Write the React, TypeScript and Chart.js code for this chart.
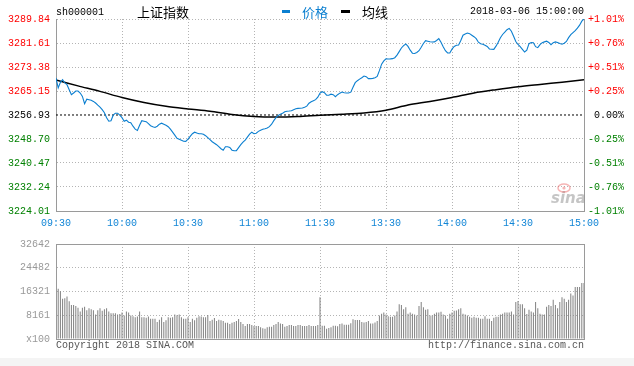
import React, { useEffect, useRef } from "react";
import { Chart, registerables } from "chart.js";

Chart.register(...registerables);

// ---------- data ----------
const stockCode = "sh000001";
const stockName = "上证指数";
const legendPrice = "价格";
const legendAvg = "均线";
const dateTime = "2018-03-06 15:00:00";
const copyrightText = "Copyright 2018 SINA.COM";
const siteText = "http://finance.sina.com.cn";
const watermarkText = "sina";

const prevClose = 3256.93;
const priceTicks = [3224.01, 3232.24, 3240.47, 3248.7, 3256.93, 3265.15, 3273.38, 3281.61, 3289.84];
const priceTickLabels = ["3224.01", "3232.24", "3240.47", "3248.70", "3256.93", "3265.15", "3273.38", "3281.61", "3289.84"];
const pctTickLabels = ["-1.01%", "-0.76%", "-0.51%", "-0.25%", "0.00%", "+0.25%", "+0.51%", "+0.76%", "+1.01%"];

// trading minutes since 09:30 (lunch break removed)
const timeTicks = [0, 30, 60, 90, 120, 150, 180, 210, 240];
const timeLabels = ["09:30", "10:00", "10:30", "11:00", "11:30", "13:30", "14:00", "14:30", "15:00"];

const volTicks = [0, 8161, 16321, 24482, 32642];
const volTickLabels = ["x100", "8161", "16321", "24482", "32642"];

// one price per trading minute (241 minutes)
const prices = [
  3269.62, 3266.19, 3268.11, 3269.03, 3267.9, 3267.32, 3265.61, 3263.89, 3264.47, 3265.16,
  3265.16, 3264.47, 3263.31, 3260.8, 3262.35, 3262.18, 3262.0, 3261.59, 3261.04, 3260.29,
  3259.6, 3258.75, 3257.72, 3256.0, 3254.8, 3254.98, 3256.86, 3257.55, 3257.55, 3256.86,
  3256.0, 3254.8, 3255.15, 3254.46, 3254.29, 3253.09, 3252.06, 3251.65, 3253.43, 3254.98,
  3254.8, 3254.63, 3253.95, 3253.26, 3252.92, 3252.64, 3253.09, 3253.78, 3254.12, 3253.78,
  3253.43, 3252.92, 3252.06, 3251.03, 3250.0, 3248.97, 3248.63, 3248.29, 3247.95, 3247.88,
  3248.63, 3249.59, 3250.52, 3251.03, 3250.76, 3250.52, 3250.52, 3250.35, 3249.83, 3249.15,
  3248.46, 3247.77, 3247.26, 3246.75, 3246.06, 3245.37, 3244.86, 3246.06, 3246.06, 3245.82,
  3244.86, 3244.69, 3244.69, 3245.72, 3246.75, 3247.6, 3248.29, 3249.32, 3250.35, 3251.03,
  3250.52, 3250.69, 3251.31, 3251.72, 3252.06, 3252.23, 3252.47, 3252.92, 3253.78, 3254.98,
  3256.0, 3256.79, 3257.2, 3257.55, 3258.06, 3258.23, 3258.3, 3258.4, 3258.75, 3259.09,
  3259.19, 3259.26, 3259.33, 3259.6, 3259.95, 3260.98, 3261.49, 3261.83, 3262.18, 3263.03,
  3264.41, 3264.92, 3264.58, 3263.72, 3263.72, 3264.06, 3263.89, 3263.21, 3263.89, 3264.41,
  3264.82, 3264.58, 3264.47, 3264.47, 3264.75, 3266.46, 3268.01, 3268.69, 3269.21, 3269.72,
  3270.3, 3270.06, 3269.38, 3269.38, 3269.48, 3269.72, 3270.13, 3272.12, 3274.35, 3275.45,
  3276.17, 3276.13, 3276.17, 3276.24, 3276.58, 3277.44, 3278.64, 3279.9, 3280.69, 3281.28,
  3280.45, 3279.15, 3278.12, 3278.02, 3278.36, 3278.98, 3280.18, 3281.45, 3282.41, 3282.24,
  3282.06, 3281.96, 3282.0, 3282.48, 3283.09, 3281.89, 3280.35, 3278.98, 3278.22, 3278.19,
  3279.49, 3280.42, 3280.86, 3280.93, 3282.48, 3284.29, 3284.7, 3285.05, 3284.81, 3284.29,
  3283.78, 3283.09, 3281.89, 3281.38, 3281.17, 3280.86, 3280.42, 3279.56, 3279.46, 3279.42,
  3280.52, 3281.89, 3283.44, 3284.53, 3285.32, 3286.18, 3286.63, 3285.66, 3283.95, 3282.13,
  3281.1, 3280.35, 3279.42, 3278.53, 3279.15, 3281.38, 3281.79, 3281.72, 3280.35, 3280.01,
  3281.04, 3281.72, 3282.0, 3282.24, 3281.79, 3281.04, 3281.72, 3282.0, 3281.79, 3281.45,
  3281.21, 3281.55, 3282.13, 3283.44, 3284.46, 3285.15, 3285.84, 3286.69, 3287.72, 3289.09,
  3289.84,
];

// average price line, read every 10 minutes
const avgMinutes = [0, 10, 20, 30, 40, 50, 60, 70, 80, 90, 100, 110, 120, 130, 140, 150, 160, 170, 180, 190, 200, 210, 220, 230, 240];
const avgPrices = [
  3268.9, 3266.91, 3265.02, 3262.93, 3261.22, 3259.91, 3259.02, 3258.23, 3257.1, 3256.42,
  3256.24, 3256.42, 3256.86, 3257.2, 3257.65, 3258.58, 3260.36, 3261.56, 3262.93, 3264.47,
  3265.61, 3266.63, 3267.42, 3268.18, 3269.03,
];

// volume per minute (x100)
const volumes = [
  32642, 17300, 16420, 13810, 14040, 14590, 12960, 11650, 11650, 11330,
  10770, 9470, 10770, 11100, 9890, 10540, 10220, 9890, 8390, 9890,
  10540, 9690, 10220, 10540, 9470, 8810, 8810, 8810, 8390, 8590,
  9140, 8060, 9470, 9140, 8060, 7830, 7510, 7740, 9470, 7510,
  7510, 7280, 7740, 6950, 6950, 6950, 5880, 6630, 7510, 5880,
  6430, 7510, 7280, 7510, 8390, 8160, 8390, 7510, 6950, 6950,
  7510, 5876, 6963, 6420, 7290, 7834, 7726, 7508, 7508, 8270,
  6202, 6637, 7181, 6202, 6637, 6420, 6202, 5549, 5549, 5114,
  5549, 5876, 6202, 6855, 5876, 5114, 4461, 5114, 5114, 4787,
  4461, 4461, 4461, 4026, 3699, 3482, 4026, 4243, 4243, 4787,
  5114, 5876, 5331, 5114, 4243, 4461, 4787, 4787, 4461, 4461,
  4787, 4787, 4461, 4461, 4461, 4787, 4461, 4461, 4461, 4787,
  14362, 4570, 4570, 3482, 3808, 4026, 4570, 4570, 4352, 5114,
  5331, 4896, 4896, 4896, 5440, 6746, 6528, 6528, 6528, 5876,
  5658, 5876, 6202, 5331, 5331, 5658, 6202, 8053, 8705, 9140,
  8378, 7834, 7616, 7616, 8053, 9466, 11969, 11643, 10227, 10880,
  8705, 9140, 8705, 8378, 8053, 11317, 12730, 10880, 10011, 10227,
  8053, 8053, 8705, 9140, 9140, 9358, 8378, 8053, 6963, 8705,
  9140, 9684, 9793, 10227, 10553, 8705, 8378, 8053, 7616, 7290,
  7616, 7290, 7290, 6963, 6963, 7834, 6963, 6963, 6202, 7290,
  7616, 7616, 8378, 8705, 9140, 9140, 9140, 9466, 8378, 12730,
  13057, 11969, 11969, 10553, 8596, 10011, 9466, 9140, 12730, 10553,
  8705, 8378, 8378, 11098, 11643, 11317, 13491, 11643, 10553, 12730,
  14362, 13818, 12730, 13491, 15668, 14906, 17844, 17844, 17844, 19259,
  19259,
];

// ---------- styles ----------
const MONO = "'Liberation Mono', 'DejaVu Sans Mono', monospace";
const CJK = "'Noto Sans CJK SC', sans-serif";
const BLUE = "#0b7fd0";
const BLUE_TXT = "#1185d6";
const RED = "#ff0000";
const GREEN = "#008000";
const GRID = "#b4b4b4";
const AXIS = "#9a9a9a";
const VOL = "#808080";
const VOL_TXT = "#999999";

const W = 634;
const TOP_H = 232;
const BOT_H = 134;

const tickColor = (v: number) => (v > prevClose + 1e-6 ? RED : v < prevClose - 1e-6 ? GREEN : "#000");

const headerPlugin = {
  id: "header",
  afterDraw(chart: any) {
    const ctx = chart.ctx;
    const area = chart.chartArea;
    ctx.save();
    ctx.textBaseline = "middle";
    ctx.textAlign = "left";
    ctx.fillStyle = "#000";
    ctx.font = `10px ${MONO}`;
    ctx.fillText(stockCode, area.left, 12);
    ctx.font = `13px ${CJK}`;
    ctx.fillText(stockName, 137, 12);
    ctx.fillStyle = BLUE;
    ctx.fillRect(282, 10, 8, 3);
    ctx.fillText(legendPrice, 302, 12);
    ctx.fillStyle = "#000";
    ctx.fillRect(341, 10, 9, 3);
    ctx.fillText(legendAvg, 362, 12);
    ctx.font = `10px ${MONO}`;
    ctx.textAlign = "right";
    ctx.fillText(dateTime, area.right, 11);
    // watermark
    ctx.textAlign = "left";
    ctx.font = `italic bold 15px 'DejaVu Sans', sans-serif`;
    ctx.fillStyle = "rgba(150,150,150,0.55)";
    ctx.fillText(watermarkText, area.right - 33, area.bottom - 12);
    ctx.strokeStyle = "rgba(235,90,90,0.45)";
    ctx.lineWidth = 1.5;
    ctx.beginPath();
    ctx.ellipse(area.right - 20, area.bottom - 23, 6, 4, 0, 0, Math.PI * 2);
    ctx.stroke();
    ctx.fillStyle = "rgba(235,90,90,0.45)";
    ctx.beginPath();
    ctx.arc(area.right - 20, area.bottom - 23, 1.6, 0, Math.PI * 2);
    ctx.fill();
    ctx.restore();
  },
};

const volFramePlugin = {
  id: "volFrame",
  afterDraw(chart: any) {
    const ctx = chart.ctx;
    const a = chart.chartArea;
    ctx.save();
    ctx.strokeStyle = AXIS;
    ctx.lineWidth = 1;
    ctx.strokeRect(Math.round(a.left) + 0.5, Math.round(a.top) + 0.5, Math.round(a.right - a.left), Math.round(a.bottom - a.top));
    ctx.font = `10px ${MONO}`;
    ctx.textBaseline = "middle";
    ctx.fillStyle = "#555";
    ctx.textAlign = "left";
    ctx.fillText(copyrightText, a.left, a.bottom + 6);
    ctx.textAlign = "right";
    ctx.fillText(siteText, a.right, a.bottom + 6);
    ctx.restore();
  },
};

export default function App() {
  const topRef = useRef<HTMLCanvasElement | null>(null);
  const botRef = useRef<HTMLCanvasElement | null>(null);

  useEffect(() => {
    document.body.style.margin = "0";
    const timeTickBuilder = (s: any) => {
      s.ticks = timeTicks.map((v) => ({ value: v }));
    };
    const priceTickBuilder = (s: any) => {
      s.ticks = priceTicks.map((v) => ({ value: v }));
    };

    const priceChart = new Chart(topRef.current as HTMLCanvasElement, {
      type: "line",
      data: {
        datasets: [
          {
            label: legendPrice,
            data: prices.map((p, i) => ({ x: i, y: p })),
            borderColor: BLUE,
            borderWidth: 1.1,
            pointRadius: 0,
            tension: 0,
            order: 1,
          },
          {
            label: legendAvg,
            data: avgMinutes.map((m, i) => ({ x: m, y: avgPrices[i] })),
            borderColor: "#000",
            borderWidth: 1.5,
            pointRadius: 0,
            tension: 0.3,
            order: 2,
          },
          {
            label: "prevClose",
            data: [
              { x: timeTicks[0], y: prevClose },
              { x: timeTicks[timeTicks.length - 1], y: prevClose },
            ],
            borderColor: "#000",
            borderWidth: 1,
            borderDash: [2, 2],
            pointRadius: 0,
            order: 3,
          },
        ],
      },
      options: {
        responsive: false,
        animation: false,
        events: [],
        layout: { padding: { top: 19, left: 0, right: 10, bottom: 0 } },
        plugins: { legend: { display: false }, tooltip: { enabled: false } },
        scales: {
          x: {
            type: "linear",
            min: timeTicks[0],
            max: timeTicks[timeTicks.length - 1],
            afterBuildTicks: timeTickBuilder,
            afterFit: (s: any) => {
              s.height = 21;
            },
            ticks: {
              autoSkip: false,
              maxRotation: 0,
              padding: 6,
              color: BLUE_TXT,
              font: { family: MONO, size: 10 },
              callback: (_v: any, i: number) => timeLabels[i],
            },
            grid: { color: GRID, drawTicks: false, lineWidth: 1 },
            border: { color: AXIS, dash: [1, 2] },
          },
          y: {
            position: "left",
            min: priceTicks[0],
            max: priceTicks[priceTicks.length - 1],
            afterBuildTicks: priceTickBuilder,
            afterFit: (s: any) => {
              s.width = 56;
            },
            ticks: {
              padding: 6,
              font: { family: MONO, size: 10 },
              color: (c: any) => tickColor(c.tick ? c.tick.value : prevClose),
              callback: (_v: any, i: number) => priceTickLabels[i],
            },
            grid: {
              drawTicks: false,
              color: (c: any) => (c.tick && Math.abs(c.tick.value - prevClose) < 1e-6 ? "rgba(0,0,0,0)" : GRID),
            },
            border: { color: AXIS, dash: [1, 2] },
          },
          y2: {
            position: "right",
            min: priceTicks[0],
            max: priceTicks[priceTicks.length - 1],
            afterBuildTicks: priceTickBuilder,
            afterFit: (s: any) => {
              s.width = 40;
            },
            ticks: {
              padding: 4,
              crossAlign: "far",
              font: { family: MONO, size: 10 },
              color: (c: any) => tickColor(c.tick ? c.tick.value : prevClose),
              callback: (_v: any, i: number) => pctTickLabels[i],
            },
            grid: { display: false },
            border: { color: AXIS },
          },
        },
      } as any,
      plugins: [headerPlugin],
    });

    const volChart = new Chart(botRef.current as HTMLCanvasElement, {
      type: "bar",
      data: {
        datasets: [
          {
            data: volumes.map((v, i) => ({ x: i, y: v })),
            backgroundColor: VOL,
            borderWidth: 0,
            barThickness: 1,
            inflateAmount: 0,
          },
        ],
      },
      options: {
        responsive: false,
        animation: false,
        events: [],
        layout: { padding: { top: 7, left: 0, right: 50, bottom: 0 } },
        plugins: { legend: { display: false }, tooltip: { enabled: false } },
        scales: {
          x: {
            type: "linear",
            offset: false,
            min: timeTicks[0],
            max: timeTicks[timeTicks.length - 1],
            afterBuildTicks: timeTickBuilder,
            afterFit: (s: any) => {
              s.height = 27;
            },
            ticks: { display: false },
            grid: { color: GRID, drawTicks: false, offset: false },
            border: { color: AXIS, dash: [1, 2] },
          },
          y: {
            min: volTicks[0],
            max: volTicks[volTicks.length - 1],
            afterBuildTicks: (s: any) => {
              s.ticks = volTicks.map((v) => ({ value: v }));
            },
            afterFit: (s: any) => {
              s.width = 56;
            },
            ticks: {
              padding: 6,
              color: VOL_TXT,
              font: { family: MONO, size: 10 },
              callback: (_v: any, i: number) => volTickLabels[i],
            },
            grid: { color: GRID, drawTicks: false },
            border: { color: AXIS, dash: [1, 2] },
          },
        },
      } as any,
      plugins: [volFramePlugin],
    });

    return () => {
      priceChart.destroy();
      volChart.destroy();
    };
  }, []);

  return (
    <div style={{ position: "relative", width: W, height: 366, background: "#fff", overflow: "hidden" }}>
      <canvas ref={topRef} width={W} height={TOP_H} style={{ position: "absolute", left: 0, top: 0, width: W, height: TOP_H }} />
      <canvas ref={botRef} width={W} height={BOT_H} style={{ position: "absolute", left: 0, top: TOP_H, width: W, height: BOT_H }} />
      <div style={{ position: "absolute", left: 0, top: 358, width: W, height: 8, background: "#f4f4f4" }} />
    </div>
  );
}
